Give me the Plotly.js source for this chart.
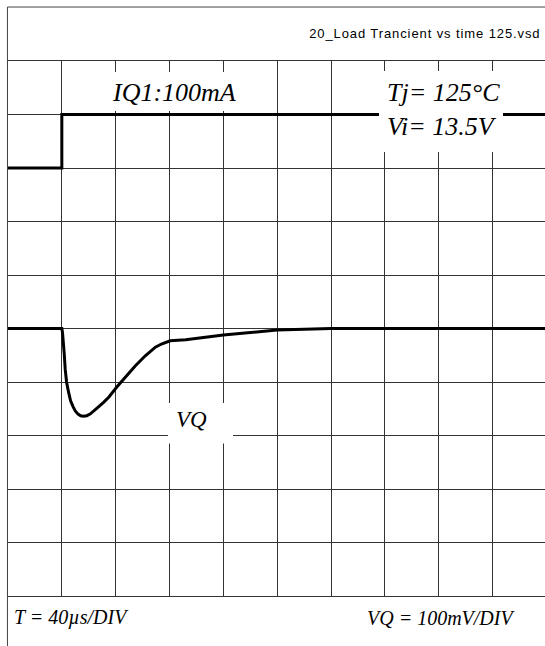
<!DOCTYPE html>
<html>
<head>
<meta charset="utf-8">
<script src="https://cdn.plot.ly/plotly-3.0.1.min.js"></script>
<style>
  html, body { margin: 0; padding: 0; background: #fff; }
  #grafica { width: 545px; height: 646px; }
  /* el nombre del archivo va con letras espaciadas */
  .annotation[data-index="0"] text { letter-spacing: 0.9px; }
</style>
</head>
<body>
<div id="grafica"></div>
<script>
// tiempo en microsegundos (40 us por division), salto de carga en t = 0
const tiempoUs = [-40, 0, 0.5, 1, 1.8, 2.5, 3.5, 5, 6.5, 8.5, 10, 12, 14, 16, 18.5, 21, 24, 27, 31, 35, 41, 47, 54.5, 62, 69.5, 74, 80.5, 92, 120, 160, 200, 360];
// desviacion de VQ en mV (100 mV por division)
const vqMv = [0, 0, -8, -20, -48, -76, -100, -119, -135, -147, -154, -160, -163, -164, -163, -160, -154, -147, -138, -128, -109, -91, -70, -51, -35, -29, -23, -21, -12, -3, 0, 0];

// escalon de corriente IQ
const iqTiempoUs = [-40, 0, 0, 360];
const iqMa = [1, 1, 100, 100];

const tituloArchivo = '20_Load Trancient vs time 125.vsd';
const etiquetaIq = 'IQ1:100mA';
const etiquetaCond = 'Tj= 125°C<br>Vi= 13.5V';
const etiquetaVq = 'VQ';
const escalaT = 'T = 40µs/DIV';
const escalaVq = 'VQ = 100mV/DIV';

const serif = { family: 'Liberation Serif', style: 'italic', color: '#000' };

const traceVq = {
    x: tiempoUs, y: vqMv,
    mode: 'lines',
    line: { color: '#000', width: 3 },
    hoverinfo: 'skip'
};

const traceIq = {
    x: iqTiempoUs, y: iqMa,
    yaxis: 'y2',
    mode: 'lines',
    line: { color: '#000', width: 3 },
    hoverinfo: 'skip'
};

// cajas blancas que tapan la reticula detras de los textos
function caja(x0, x1, y0, y1) {
    return { type: 'rect', xref: 'paper', yref: 'paper', x0, x1, y0, y1,
             fillcolor: '#fff', line: { width: 0 }, layer: 'above' };
}

const layout = {
    width: 545, height: 646,
    margin: { l: 8, r: 0, t: 61, b: 50 },
    paper_bgcolor: '#fff', plot_bgcolor: '#fff',
    showlegend: false,
    xaxis: {
        range: [-40, 359], tick0: -40, dtick: 40,
        showgrid: true, gridcolor: '#333', gridwidth: 1,
        zeroline: false, showticklabels: false, ticks: '',
        showline: true, mirror: true, linecolor: '#333', linewidth: 1
    },
    yaxis: {
        range: [-500, 500], tick0: -500, dtick: 100,
        showgrid: true, gridcolor: '#333', gridwidth: 1,
        zeroline: false, showticklabels: false, ticks: '',
        showline: true, linecolor: '#333', linewidth: 1
    },
    yaxis2: {
        overlaying: 'y', range: [-791, 199], visible: false
    },
    shapes: [
        // borde izquierdo y superior del marco
        { type: 'line', xref: 'paper', yref: 'paper', x0: -0.001, x1: -0.001, y0: -0.1, y1: 1.1009, line: { color: '#444', width: 1 } },
        { type: 'line', xref: 'paper', yref: 'paper', x0: -0.001, x1: 1.01, y0: 1.1009, y1: 1.1009, line: { color: '#444', width: 1 } },
        caja(0.1788, 0.445, 0.9065, 0.9794),
        caja(0.6909, 0.9218, 0.8299, 0.9813),
        caja(0.298, 0.419, 0.285, 0.3607)
    ],
    annotations: [
        { text: tituloArchivo, xref: 'paper', yref: 'paper', x: 0.584, y: 1.0523, xanchor: 'left', yanchor: 'middle',
          showarrow: false, font: { family: 'Liberation Sans', size: 13, color: '#000' } },
        { text: etiquetaIq, xref: 'paper', yref: 'paper', x: 0.19, y: 0.941, xanchor: 'left', yanchor: 'middle',
          showarrow: false, font: Object.assign({ size: 26 }, serif) },
        { text: etiquetaCond, xref: 'paper', yref: 'paper', x: 0.702, y: 0.9097, xanchor: 'left', yanchor: 'middle', align: 'left',
          showarrow: false, font: Object.assign({ size: 26 }, serif) },
        { text: etiquetaVq, xref: 'paper', yref: 'paper', x: 0.31, y: 0.329, xanchor: 'left', yanchor: 'middle',
          showarrow: false, font: Object.assign({ size: 23 }, serif) },
        { text: escalaT, xref: 'paper', yref: 'paper', x: 0.0075, y: -0.0411, xanchor: 'left', yanchor: 'middle',
          showarrow: false, font: Object.assign({ size: 20 }, serif) },
        { text: escalaVq, xref: 'paper', yref: 'paper', x: 0.6648, y: -0.0411, xanchor: 'left', yanchor: 'middle',
          showarrow: false, font: Object.assign({ size: 20 }, serif) }
    ]
};

Plotly.newPlot('grafica', [traceVq, traceIq], layout, { displayModeBar: false, staticPlot: true });
</script>
</body>
</html>
